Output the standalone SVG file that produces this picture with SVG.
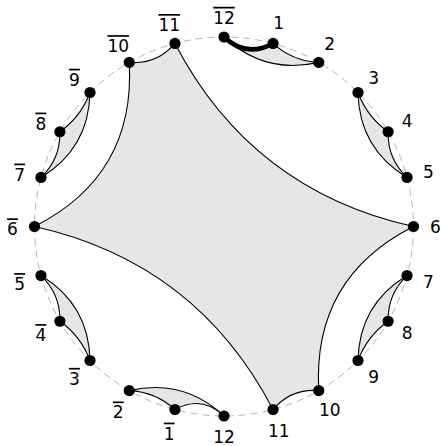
<svg xmlns="http://www.w3.org/2000/svg" width="442" height="446" viewBox="0 0 442 446">
<style>
.bd{fill:none;stroke:#b3b3b3;stroke-width:1;stroke-dasharray:7 5}
.face{fill:#e6e6e6;stroke:none}
.e{fill:none;stroke:#000;stroke-width:1.1}
.thick{fill:none;stroke:#000;stroke-width:4.6;stroke-linecap:round}
.dot{fill:#000}
.lb{font-family:"DejaVu Sans",sans-serif;font-size:17px;text-anchor:middle;fill:#000}
.ov{text-decoration:overline}
</style>
<rect width="442" height="446" fill="#fff"/>
<circle class="bd" cx="224" cy="226.5" r="189.5"/>
<g id="faces">
<path class="face" d="M34.5 226.5Q135.57 175.44 129.25 62.39Q157 64.75 174.95 43.46Q251.61 190.51 413.5 226.5Q312.43 277.56 318.75 390.61Q291 388.25 273.05 409.54Q196.39 262.49 34.5 226.5Z"/>
<path class="face" d="M224 37Q246.17 58.07 273.05 43.46Q292.45 61.24 318.75 62.39Q264.64 74.81 224 37Z"/>
<path class="face" d="M224 416Q201.83 394.93 174.95 409.54Q155.55 391.76 129.25 390.61Q183.36 378.19 224 416Z"/>
<path class="face" d="M358 92.5Q367.03 116.75 388.11 131.75Q387.42 158.81 407.04 177.45Q359.13 148.48 358 92.5Z"/>
<path class="face" d="M358 360.5Q367.03 336.25 388.11 321.25Q387.42 294.19 407.04 275.55Q359.13 304.52 358 360.5Z"/>
<path class="face" d="M90 360.5Q80.97 336.25 59.89 321.25Q60.58 294.19 40.96 275.55Q88.87 304.52 90 360.5Z"/>
<path class="face" d="M90 92.5Q80.97 116.75 59.89 131.75Q60.58 158.81 40.96 177.45Q88.87 148.48 90 92.5Z"/>
</g>
<g id="connectors">
<path class="e" d="M34.5 226.5Q135.57 175.44 129.25 62.39"/>
<path class="e" d="M129.25 62.39Q157 64.75 174.95 43.46"/>
<path class="e" d="M174.95 43.46Q251.61 190.51 413.5 226.5"/>
<path class="e" d="M413.5 226.5Q312.43 277.56 318.75 390.61"/>
<path class="e" d="M318.75 390.61Q291 388.25 273.05 409.54"/>
<path class="e" d="M273.05 409.54Q196.39 262.49 34.5 226.5"/>
<path class="thick" d="M224 37Q246.17 58.07 273.05 43.46"/>
<path class="e" d="M273.05 43.46Q292.45 61.24 318.75 62.39"/>
<path class="e" d="M224 37Q264.64 74.81 318.75 62.39"/>
<path class="e" d="M224 416Q201.83 394.93 174.95 409.54"/>
<path class="e" d="M174.95 409.54Q155.55 391.76 129.25 390.61"/>
<path class="e" d="M224 416Q183.36 378.19 129.25 390.61"/>
<path class="e" d="M358 92.5Q367.03 116.75 388.11 131.75"/>
<path class="e" d="M388.11 131.75Q387.42 158.81 407.04 177.45"/>
<path class="e" d="M358 92.5Q359.13 148.48 407.04 177.45"/>
<path class="e" d="M358 360.5Q367.03 336.25 388.11 321.25"/>
<path class="e" d="M388.11 321.25Q387.42 294.19 407.04 275.55"/>
<path class="e" d="M358 360.5Q359.13 304.52 407.04 275.55"/>
<path class="e" d="M90 360.5Q80.97 336.25 59.89 321.25"/>
<path class="e" d="M59.89 321.25Q60.58 294.19 40.96 275.55"/>
<path class="e" d="M90 360.5Q88.87 304.52 40.96 275.55"/>
<path class="e" d="M90 92.5Q80.97 116.75 59.89 131.75"/>
<path class="e" d="M59.89 131.75Q60.58 158.81 40.96 177.45"/>
<path class="e" d="M90 92.5Q88.87 148.48 40.96 177.45"/>
</g>
<g id="n1"><circle class="dot" cx="273.05" cy="43.46" r="5.6"/><text class="lb" x="278.74" y="28.8">1</text></g>
<g id="n2"><circle class="dot" cx="318.75" cy="62.39" r="5.6"/><text class="lb" x="329.75" y="49.9">2</text></g>
<g id="n3"><circle class="dot" cx="358" cy="92.5" r="5.6"/><text class="lb" x="373.55" y="83.55">3</text></g>
<g id="n4"><circle class="dot" cx="388.11" cy="131.75" r="5.6"/><text class="lb" x="407.16" y="127.35">4</text></g>
<g id="n5"><circle class="dot" cx="407.04" cy="177.45" r="5.6"/><text class="lb" x="428.29" y="178.36">5</text></g>
<g id="n6"><circle class="dot" cx="413.5" cy="226.5" r="5.6"/><text class="lb" x="435.5" y="233.1">6</text></g>
<g id="n7"><circle class="dot" cx="407.04" cy="275.55" r="5.6"/><text class="lb" x="428.29" y="287.84">7</text></g>
<g id="n8"><circle class="dot" cx="388.11" cy="321.25" r="5.6"/><text class="lb" x="407.16" y="338.85">8</text></g>
<g id="n9"><circle class="dot" cx="358" cy="360.5" r="5.6"/><text class="lb" x="373.55" y="382.65">9</text></g>
<g id="n10"><circle class="dot" cx="318.75" cy="390.61" r="5.6"/><text class="lb" x="329.75" y="416.26">10</text></g>
<g id="n11"><circle class="dot" cx="273.05" cy="409.54" r="5.6"/><text class="lb" x="278.74" y="437.39">11</text></g>
<g id="n12"><circle class="dot" cx="224" cy="416" r="5.6"/><text class="lb" x="224" y="442.6">12</text></g>
<g id="n1bar"><circle class="dot" cx="174.95" cy="409.54" r="5.6"/><text class="lb ov" x="169.26" y="439.6">1</text></g>
<g id="n2bar"><circle class="dot" cx="129.25" cy="390.61" r="5.6"/><text class="lb ov" x="118.25" y="418.46">2</text></g>
<g id="n3bar"><circle class="dot" cx="90" cy="360.5" r="5.6"/><text class="lb ov" x="74.45" y="384.85">3</text></g>
<g id="n4bar"><circle class="dot" cx="59.89" cy="321.25" r="5.6"/><text class="lb ov" x="40.84" y="341.05">4</text></g>
<g id="n5bar"><circle class="dot" cx="40.96" cy="275.55" r="5.6"/><text class="lb ov" x="19.71" y="290.04">5</text></g>
<g id="n6bar"><circle class="dot" cx="34.5" cy="226.5" r="5.6"/><text class="lb ov" x="12.5" y="235.3">6</text></g>
<g id="n7bar"><circle class="dot" cx="40.96" cy="177.45" r="5.6"/><text class="lb ov" x="19.71" y="180.56">7</text></g>
<g id="n8bar"><circle class="dot" cx="59.89" cy="131.75" r="5.6"/><text class="lb ov" x="40.84" y="129.55">8</text></g>
<g id="n9bar"><circle class="dot" cx="90" cy="92.5" r="5.6"/><text class="lb ov" x="74.45" y="85.75">9</text></g>
<g id="n10bar"><circle class="dot" cx="129.25" cy="62.39" r="5.6"/><text class="lb ov" x="118.25" y="52.14">10</text></g>
<g id="n11bar"><circle class="dot" cx="174.95" cy="43.46" r="5.6"/><text class="lb ov" x="169.26" y="31.01">11</text></g>
<g id="n12bar"><circle class="dot" cx="224" cy="37" r="5.6"/><text class="lb ov" x="224" y="23.8">12</text></g>
</svg>
